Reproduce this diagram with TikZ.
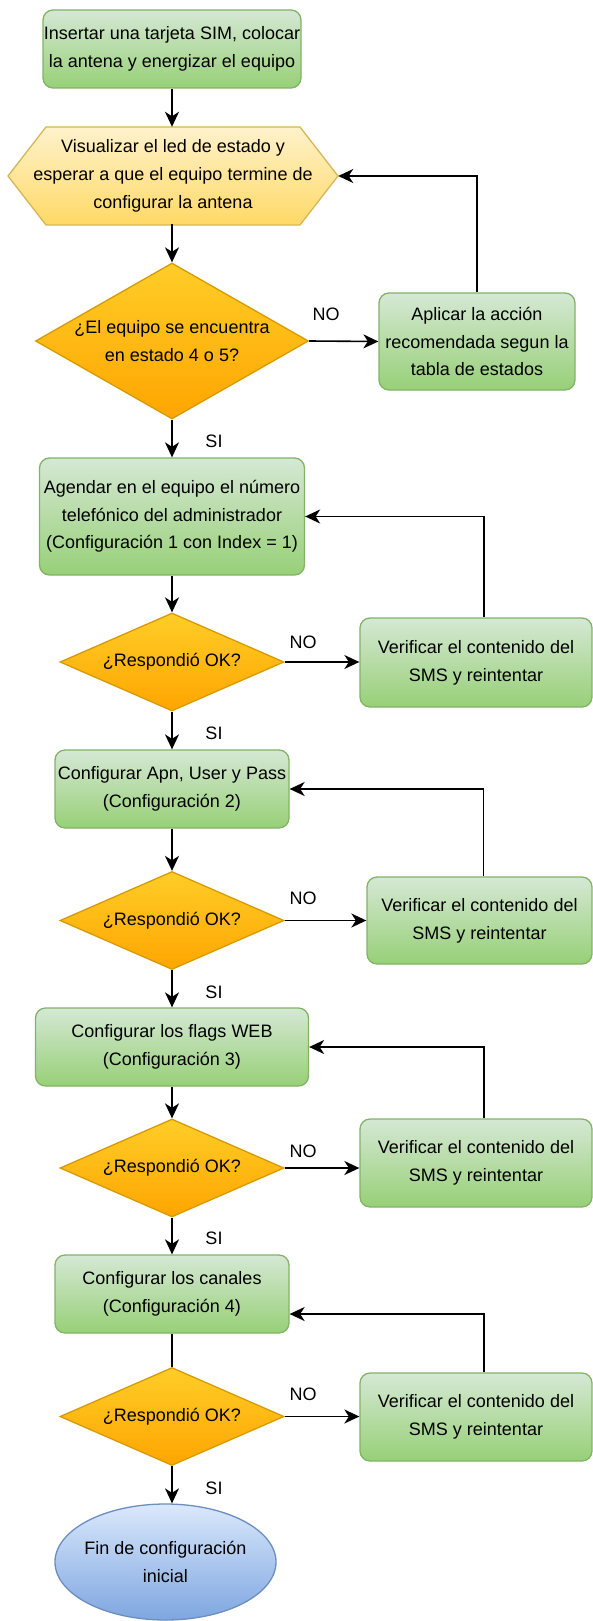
\documentclass[tikz,border=0pt]{standalone}
\usepackage{fontspec}
\setmainfont{Liberation Sans}
\usetikzlibrary{shapes.geometric,arrows.meta}
\definecolor{gtop}{HTML}{D5E8D4}
\definecolor{gbot}{HTML}{97D077}
\definecolor{gborder}{HTML}{82B366}
\definecolor{otop}{HTML}{FFCD28}
\definecolor{obot}{HTML}{FFA500}
\definecolor{oborder}{HTML}{D79B00}
\definecolor{ytop}{HTML}{FFF2CC}
\definecolor{ybot}{HTML}{FFD966}
\definecolor{yborder}{HTML}{D6B656}
\definecolor{btop}{HTML}{DAE8FC}
\definecolor{bbot}{HTML}{7EA6E0}
\definecolor{bborder}{HTML}{6C8EBF}
\tikzset{
  txt/.style={font=\fontsize{18}{27.7}\selectfont, align=center, text=black},
  gbox/.style={txt, rectangle, rounded corners=10pt, draw=gborder, line width=1.3pt, top color=gtop, bottom color=gbot, inner sep=0pt},
  decbig/.style={txt, diamond, aspect=1.75, draw=oborder, line width=1.3pt, top color=otop, bottom color=obot, inner sep=0pt, minimum width=273pt, minimum height=156pt},
  dec/.style={txt, diamond, aspect=2.29, draw=oborder, line width=1.3pt, top color=otop, bottom color=obot, inner sep=0pt, minimum width=224pt, minimum height=98pt},
  endshape/.style={ellipse, draw=bborder, line width=1.3pt, top color=btop, bottom color=bbot, inner sep=0pt, minimum width=221pt, minimum height=116pt},
  arr/.style={line width=1.6pt, -{Stealth[length=15pt,width=14pt,inset=4.5pt]}},
  plain/.style={line width=1.6pt},
  lbl/.style={font=\fontsize{18}{20}\selectfont, text=black, inner sep=0pt},
}
\begin{document}
\begin{tikzpicture}[x=1pt,y=-1pt]
\useasboundingbox (0,0) rectangle (593,1621);
\fill[white] (0,0) rectangle (593,1621);

% start box
\node[gbox, minimum width=258pt, minimum height=78pt] (b1) at (172,49) {Insertar una tarjeta SIM, colocar\\la antena y energizar el equipo};

% hexagon
\shade[top color=ytop, bottom color=ybot, draw=yborder, line width=1.3pt]
  (8,176) -- (46,127) -- (300,127) -- (338,176) -- (300,225) -- (46,225) -- cycle;
\node[txt, minimum width=330pt, minimum height=98pt, inner sep=0pt] (hex) at (173,176) {Visualizar el led de estado y\\esperar a que el equipo termine de\\configurar la antena};

\node[decbig] (d1) at (172,341) {¿El equipo se encuentra\\en estado 4 o 5?};
\node[gbox, minimum width=196pt, minimum height=97pt] (b2) at (477,341.5) {Aplicar la acción\\recomendada segun la\\tabla de estados};

\node[gbox, minimum width=265pt, minimum height=117pt] (b3) at (172,516.5) {Agendar en el equipo el número\\telefónico del administrador\\(Configuración 1 con Index = 1)};
\node[dec] (d2) at (172,662) {¿Respondió OK?};
\node[gbox, minimum width=232pt, minimum height=89pt] (b4) at (476,662.5) {Verificar el contenido del\\SMS y reintentar};

\node[gbox, minimum width=234pt, minimum height=78pt] (b5) at (172,789) {Configurar Apn, User y Pass\\(Configuración 2)};
\node[dec] (d3) at (172,920.5) {¿Respondió OK?};
\node[gbox, minimum width=225pt, minimum height=87pt] (b6) at (479.5,920.5) {Verificar el contenido del\\SMS y reintentar};

\node[gbox, minimum width=273pt, minimum height=78pt] (b7) at (172,1047) {Configurar los flags WEB\\(Configuración 3)};
\node[dec] (d4) at (172,1168) {¿Respondió OK?};
\node[gbox, minimum width=232pt, minimum height=88pt] (b8) at (476,1163) {Verificar el contenido del\\SMS y reintentar};

\node[gbox, minimum width=234pt, minimum height=78pt] (b9) at (172,1294) {Configurar los canales\\(Configuración 4)};
\node[dec] (d5) at (172,1416.5) {¿Respondió OK?};
\node[gbox, minimum width=232pt, minimum height=88pt] (b10) at (476,1417) {Verificar el contenido del\\SMS y reintentar};

\node[endshape] (ell) at (165.5,1562) {};
\node[txt, inner sep=0pt] (elltext) at (ell.center) {Fin de configuración\\inicial};

% main flow
\draw[arr] (b1.south) -- (b1.south |- hex.north);
\draw[arr] (hex.south) -- (hex.south -| d1.north) -- (d1.north);
\draw[arr] (d1.south) -- (b3.north);
\draw[arr] (b3.south) -- (d2.north);
\draw[arr] (d2.south) -- (b5.north);
\draw[arr] (b5.south) -- (d3.north);
\draw[arr] (d3.south) -- (b7.north);
\draw[arr] (b7.south) -- (d4.north);
\draw[arr] (d4.south) -- (b9.north);
\draw[plain] (b9.south) -- (d5.north);
\draw[arr] (d5.south) -- (d5.south |- ell.north);

% NO branches
\draw[arr] (d1.east) -- (b2.west);
\draw[arr] (d2.east) -- (d2.east -| b4.west);
\draw[arr] (d3.east) -- (d3.east -| b6.west);
\draw[arr] (d4.east) -- (d4.east -| b8.west);
\draw[arr] (d5.east) -- (d5.east -| b10.west);

% feedback loops
\draw[arr] (b2.north) |- (hex.east);
\draw[arr] ([xshift=8pt]b4.north) |- (b3.east);
\draw[arr] ([xshift=4pt]b6.north) |- (b5.east);
\draw[arr] ([xshift=8pt]b8.north) |- (b7.east);
\draw[arr] ([xshift=8pt]b10.north) |- ([yshift=-20pt]b9.east);

% labels
\node[lbl] (no1) at (326,314) {NO};
\node[lbl] (no2) at (303,642) {NO};
\node[lbl] (no3) at (303,898) {NO};
\node[lbl] (no4) at (303,1151) {NO};
\node[lbl] (no5) at (303,1394) {NO};
\node[lbl] (si1) at (214,441) {SI};
\node[lbl] (si2) at (214,733) {SI};
\node[lbl] (si3) at (214,992) {SI};
\node[lbl] (si4) at (214,1238) {SI};
\node[lbl] (si5) at (214,1488) {SI};
\end{tikzpicture}
\end{document}
